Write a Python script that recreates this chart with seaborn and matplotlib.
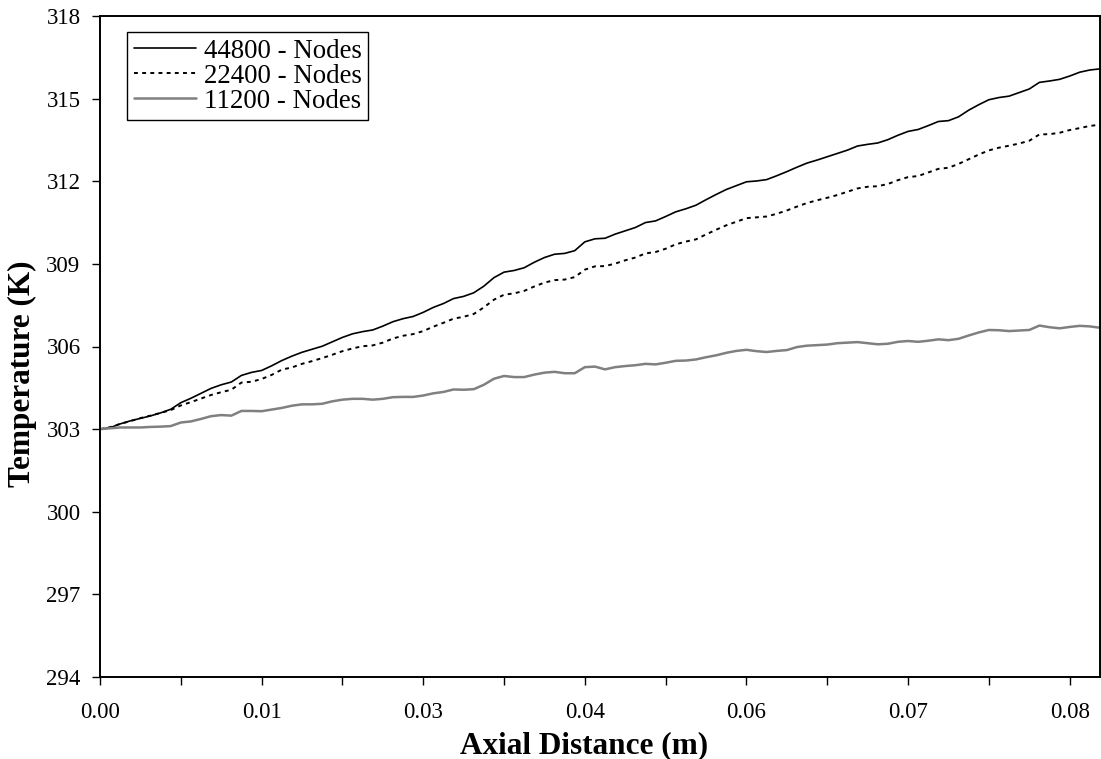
import matplotlib
matplotlib.use("Agg")
import matplotlib.pyplot as plt
import seaborn as sns
import numpy as np

# ---------------- data ----------------
axial_distance = [
    0.0, 0.000875, 0.00175, 0.002625, 0.0035, 0.004375, 0.00525, 0.006125, 0.007, 0.007875,
    0.00875, 0.009625, 0.0105, 0.011375, 0.01225, 0.013125, 0.014, 0.014875, 0.01575, 0.016625,
    0.0175, 0.018375, 0.01925, 0.020125, 0.021, 0.021875, 0.02275, 0.023625, 0.0245, 0.025375,
    0.02625, 0.027125, 0.028, 0.028875, 0.02975, 0.030625, 0.0315, 0.032375, 0.03325, 0.034125,
    0.035, 0.035875, 0.03675, 0.037625, 0.0385, 0.039375, 0.04025, 0.041125, 0.042, 0.042875,
    0.04375, 0.044625, 0.0455, 0.046375, 0.04725, 0.048125, 0.049, 0.049875, 0.05075, 0.051625,
    0.0525, 0.053375, 0.05425, 0.055125, 0.056, 0.056875, 0.05775, 0.058625, 0.0595, 0.060375,
    0.06125, 0.062125, 0.063, 0.063875, 0.06475, 0.065625, 0.0665, 0.067375, 0.06825, 0.069125,
    0.07, 0.070875, 0.07175, 0.072625, 0.0735, 0.074375, 0.07525, 0.076125, 0.077, 0.077875,
    0.07875, 0.079625, 0.0805, 0.081375, 0.08225, 0.083125, 0.084, 0.084875, 0.08575, 0.086625,
]

temp_44800 = [
    303.00, 303.05, 303.19, 303.30, 303.39, 303.48, 303.59, 303.72, 303.96, 304.12,
    304.30, 304.48, 304.61, 304.71, 304.95, 305.06, 305.13, 305.30, 305.49, 305.65,
    305.79, 305.90, 306.01, 306.17, 306.33, 306.46, 306.54, 306.60, 306.74, 306.90,
    307.01, 307.09, 307.24, 307.42, 307.56, 307.74, 307.82, 307.95, 308.19, 308.50,
    308.70, 308.76, 308.86, 309.06, 309.23, 309.35, 309.38, 309.48, 309.80, 309.91,
    309.93, 310.08, 310.20, 310.32, 310.50, 310.56, 310.72, 310.89, 311.00, 311.13,
    311.33, 311.52, 311.70, 311.84, 311.98, 312.01, 312.06, 312.20, 312.35, 312.51,
    312.66, 312.77, 312.89, 313.01, 313.13, 313.28, 313.34, 313.39, 313.51, 313.67,
    313.81, 313.88, 314.02, 314.17, 314.20, 314.34, 314.58, 314.78, 314.96, 315.04,
    315.09, 315.22, 315.35, 315.59, 315.64, 315.70, 315.82, 315.96, 316.04, 316.08,
]

temp_22400 = [
    303.00, 303.07, 303.19, 303.29, 303.40, 303.49, 303.59, 303.69, 303.86, 303.98,
    304.11, 304.24, 304.34, 304.43, 304.69, 304.72, 304.82, 304.97, 305.16, 305.24,
    305.37, 305.47, 305.58, 305.70, 305.83, 305.93, 306.01, 306.04, 306.14, 306.29,
    306.39, 306.45, 306.56, 306.72, 306.86, 307.01, 307.08, 307.18, 307.42, 307.70,
    307.88, 307.93, 308.02, 308.18, 308.32, 308.41, 308.43, 308.52, 308.79, 308.91,
    308.92, 309.01, 309.13, 309.23, 309.38, 309.43, 309.55, 309.71, 309.81, 309.89,
    310.07, 310.24, 310.40, 310.53, 310.66, 310.69, 310.72, 310.82, 310.94, 311.08,
    311.21, 311.31, 311.40, 311.50, 311.62, 311.74, 311.80, 311.82, 311.90, 312.04,
    312.15, 312.19, 312.32, 312.45, 312.49, 312.63, 312.80, 312.97, 313.12, 313.22,
    313.29, 313.37, 313.47, 313.70, 313.71, 313.76, 313.86, 313.93, 314.01, 314.05,
]

temp_11200 = [
    303.00, 303.03, 303.06, 303.06, 303.06, 303.08, 303.09, 303.11, 303.24, 303.28,
    303.37, 303.47, 303.51, 303.49, 303.66, 303.66, 303.65, 303.71, 303.77, 303.85,
    303.90, 303.90, 303.92, 304.01, 304.07, 304.10, 304.10, 304.07, 304.10, 304.16,
    304.17, 304.17, 304.22, 304.30, 304.35, 304.44, 304.43, 304.45, 304.61, 304.83,
    304.93, 304.89, 304.89, 304.98, 305.05, 305.08, 305.03, 305.03, 305.25, 305.27,
    305.17, 305.25, 305.29, 305.32, 305.37, 305.35, 305.41, 305.48, 305.49, 305.53,
    305.61, 305.68, 305.77, 305.84, 305.88, 305.83, 305.80, 305.84, 305.87, 305.98,
    306.03, 306.05, 306.07, 306.12, 306.14, 306.16, 306.12, 306.08, 306.10, 306.17,
    306.20, 306.17, 306.21, 306.26, 306.23, 306.28, 306.40, 306.51, 306.60, 306.59,
    306.56, 306.58, 306.60, 306.76, 306.70, 306.66, 306.71, 306.75, 306.73, 306.68,
]

series_labels = ["44800 - Nodes", "22400 - Nodes", "11200 - Nodes"]
x_tick_labels = ["0.00", "", "0.01", "", "0.03", "", "0.04", "", "0.06", "", "0.07", "", "0.08"]
y_ticks = [294, 297, 300, 303, 306, 309, 312, 315, 318]

# ---------------- style ----------------
sns.set_theme(style="white")
plt.rcParams["font.family"] = ["Liberation Serif", "DejaVu Serif"]
plt.rcParams["axes.edgecolor"] = "black"
plt.rcParams["axes.linewidth"] = 1.4
plt.rcParams["text.color"] = "black"
plt.rcParams["axes.labelcolor"] = "black"
plt.rcParams["xtick.color"] = "black"
plt.rcParams["ytick.color"] = "black"

fig = plt.figure(figsize=(11.01, 7.59), dpi=100)
ax = fig.add_axes([100 / 1101, 1 - 677 / 759, 1000 / 1101, (677 - 16) / 759])

sns.lineplot(x=axial_distance, y=temp_44800, ax=ax, color="black", linewidth=1.2,
             label=series_labels[0], estimator=None, sort=False)
sns.lineplot(x=axial_distance, y=temp_22400, ax=ax, color="black", linewidth=1.4,
             label=series_labels[1], estimator=None, sort=False)
sns.lineplot(x=axial_distance, y=temp_11200, ax=ax, color="#808080", linewidth=1.8,
             label=series_labels[2], estimator=None, sort=False)
ax.lines[1].set_linestyle((0, (2.0, 2.2)))

ax.set_xlim(axial_distance[0], axial_distance[-1])
ax.set_ylim(y_ticks[0], y_ticks[-1])
ax.set_yticks(y_ticks)
ax.set_xticks(axial_distance[::8])
ax.set_xticklabels(x_tick_labels)

ax.tick_params(axis="both", which="major", direction="out", length=6, width=1.0,
               colors="black", labelcolor="black", labelsize=16.5,
               bottom=True, left=True, top=False, right=False)
ax.tick_params(axis="y", pad=8)
ax.tick_params(axis="x", pad=12)

for s in ax.spines.values():
    s.set_visible(True)
    s.set_color("black")

ax.set_xlabel("Axial Distance (m)", fontsize=22.5, fontweight="bold", color="black")
ax.set_ylabel("Temperature (K)", fontsize=22.5, fontweight="bold", color="black")
ax.xaxis.label.set_verticalalignment("center")
ax.yaxis.label.set_verticalalignment("center")
ax.xaxis.set_label_coords((584 - 100) / 1000, (677 - 746) / 661)
ax.yaxis.set_label_coords((22 - 100) / 1000, (677 - 374) / 661)

leg = ax.legend(loc="upper left", bbox_to_anchor=(27 / 1000, 1 - 16 / 661), frameon=True,
                fancybox=False, shadow=False, fontsize=19.4, handlelength=2.3,
                handletextpad=0.3, borderpad=0.25, labelspacing=0.0, borderaxespad=0)
leg.get_frame().set_edgecolor("black")
leg.get_frame().set_linewidth(1.0)
leg.get_frame().set_alpha(1)
for t in leg.get_texts():
    t.set_color("black")

fig.savefig("out.png", dpi=100, facecolor="white")
